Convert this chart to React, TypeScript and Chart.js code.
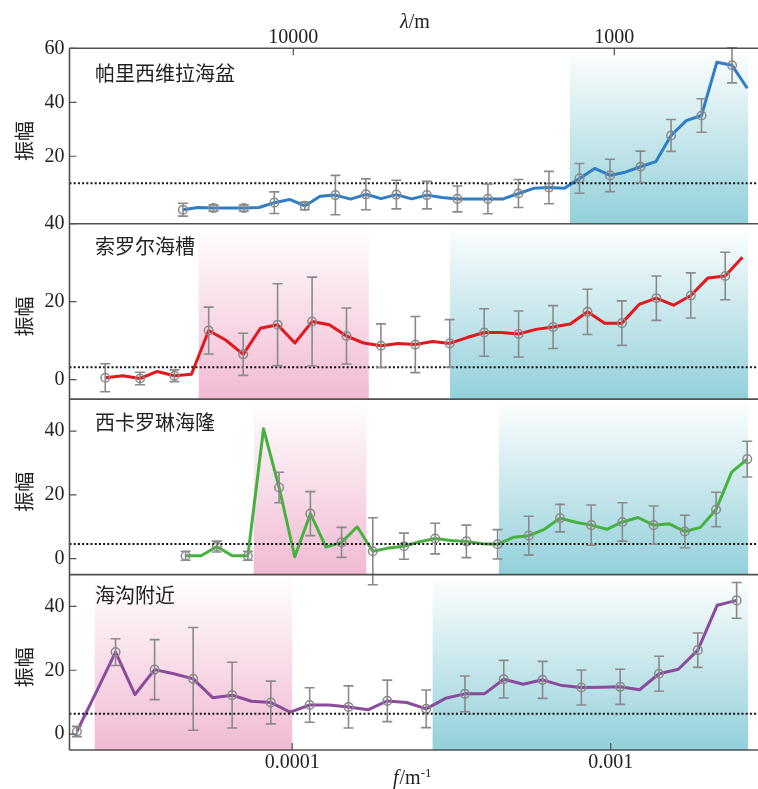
import React, { useEffect, useRef } from 'react';
import { Chart, registerables } from 'chart.js';

Chart.register(...registerables);

// ---------------- data ----------------
const panelNames = ['帕里西维拉海盆', '索罗尔海槽', '西卡罗琳海隆', '海沟附近'];
const yAxisTitle = '振幅';

const bottomTickValues = [1e-4, 1e-3];
const bottomTickLabels = ['0.0001', '0.001'];
const topTickValues = [1e-4, 1e-3];
const topTickLabels = ['10000', '1000'];

// Panel 1 – 帕里西维拉海盆
const freqP1 = [4.54e-5, 5.06e-5, 5.66e-5, 6.31e-5, 7.05e-5, 7.87e-5, 8.79e-5, 9.82e-5, 1.096e-4, 1.224e-4,
  1.367e-4, 1.526e-4, 1.704e-4, 1.902e-4, 2.124e-4, 2.372e-4, 2.649e-4, 2.957e-4, 3.302e-4, 3.687e-4,
  4.117e-4, 4.597e-4, 5.133e-4, 5.732e-4, 6.4e-4, 7.146e-4, 7.98e-4, 8.91e-4, 9.949e-4, 1.111e-3,
  1.24e-3, 1.385e-3, 1.547e-3, 1.727e-3, 1.928e-3, 2.153e-3, 2.404e-3, 2.684e-3];
const ampP1 = [0.2, 1.0, 0.8, 0.8, 0.8, 1.0, 2.8, 4.0, 1.6, 5.2, 5.6, 4.1, 5.9, 4.3, 5.8, 4.2, 5.6, 4.7, 4.2, 4.2,
  4.2, 4.2, 6.2, 8.1, 8.4, 8.1, 11.8, 15.5, 12.9, 14.1, 16.1, 18.0, 27.7, 33.2, 35.1, 54.8, 53.7, 45.2];
const errP1 = [2.4, 1.2, 1.2, 4.0, 1.4, 7.3, 5.7, 5.3, 5.1, 4.8, 5.5, 5.2, 6.0, 5.5, 6.0, 5.8, 5.9, 6.2, 6.5];

// Panel 2 – 索罗尔海槽
const freqP2 = [2.59e-5, 2.94e-5, 3.33e-5, 3.77e-5, 4.27e-5, 4.83e-5, 5.47e-5, 6.2e-5, 7.02e-5, 7.95e-5,
  9.0e-5, 1.02e-4, 1.155e-4, 1.308e-4, 1.481e-4, 1.677e-4, 1.899e-4, 2.151e-4, 2.436e-4, 2.759e-4,
  3.124e-4, 3.538e-4, 4.007e-4, 4.538e-4, 5.139e-4, 5.82e-4, 6.592e-4, 7.465e-4, 8.454e-4, 9.574e-4,
  1.084e-3, 1.228e-3, 1.391e-3, 1.575e-3, 1.784e-3, 2.02e-3, 2.288e-3, 2.591e-3];
const ampP2 = [0.5, 1.0, 0.3, 2.1, 1.0, 1.4, 12.6, 10.1, 6.5, 13.2, 14.1, 9.4, 14.9, 14.1, 11.2, 9.4, 8.7, 9.3, 9.0, 9.8,
  9.3, 10.8, 12.1, 12.1, 11.7, 12.9, 13.5, 14.3, 17.4, 14.5, 14.5, 19.3, 20.9, 19.1, 21.6, 26.1, 26.6, 31.4];
const errP2 = [3.6, 1.6, 1.5, 6.0, 5.4, 10.5, 11.4, 7.2, 5.6, 7.2, 6.1, 6.1, 5.9, 5.5, 5.8, 5.7, 5.7, 5.8, 6.1];

// Panel 3 – 西卡罗琳海隆
const freqP3 = [4.63e-5, 5.18e-5, 5.8e-5, 6.49e-5, 7.26e-5, 8.13e-5, 9.1e-5, 1.019e-4, 1.141e-4, 1.277e-4,
  1.429e-4, 1.6e-4, 1.791e-4, 2.005e-4, 2.244e-4, 2.512e-4, 2.812e-4, 3.148e-4, 3.523e-4, 3.944e-4,
  4.415e-4, 4.942e-4, 5.532e-4, 6.193e-4, 6.932e-4, 7.76e-4, 8.686e-4, 9.723e-4, 1.088e-3, 1.218e-3,
  1.364e-3, 1.527e-3, 1.709e-3, 1.913e-3, 2.142e-3, 2.397e-3, 2.683e-3];
const ampP3 = [0.9, 0.9, 3.8, 0.9, 0.9, 40.7, 22.3, 0.6, 14.1, 3.6, 5.1, 10.0, 2.3, 3.3, 3.9, 5.3, 6.3, 5.7, 5.4, 4.7,
  4.5, 6.7, 7.2, 9.2, 12.7, 11.4, 10.5, 9.2, 11.5, 12.9, 10.5, 10.9, 8.5, 9.8, 15.4, 27.1, 31.2];
const errP3 = [1.4, 1.7, 1.4, 4.8, 6.9, 4.7, 10.5, 4.1, 4.8, 5.1, 4.6, 6.1, 4.3, 6.3, 6.0, 6.0, 5.1, 5.4, 5.6];

// Panel 4 – 海沟附近
const freqP4 = [2.11e-5, 2.43e-5, 2.79e-5, 3.21e-5, 3.7e-5, 4.25e-5, 4.89e-5, 5.63e-5, 6.48e-5, 7.45e-5,
  8.57e-5, 9.86e-5, 1.135e-4, 1.306e-4, 1.503e-4, 1.729e-4, 1.989e-4, 2.289e-4, 2.634e-4, 3.03e-4,
  3.486e-4, 4.012e-4, 4.616e-4, 5.311e-4, 6.111e-4, 7.031e-4, 8.09e-4, 9.308e-4, 1.071e-3, 1.232e-3,
  1.418e-3, 1.631e-3, 1.877e-3, 2.16e-3, 2.485e-3];
const ampP4 = [0.8, 13.3, 25.7, 12.4, 20.2, 18.9, 17.3, 11.4, 12.2, 10.3, 9.9, 6.9, 9.1, 9.1, 8.5, 7.6, 10.4, 9.9, 7.9, 11.2,
  12.6, 12.6, 17.2, 15.6, 17.0, 15.2, 14.6, 14.7, 14.8, 13.9, 18.9, 20.3, 26.3, 40.4, 41.9];
const errP4 = [1.6, 4.2, 9.4, 16.1, 10.3, 6.7, 5.4, 6.6, 6.5, 5.9, 5.6, 5.9, 5.8, 5.5, 5.5, 5.5, 5.4, 5.6];

const thresholds = [10, 3.2, 4.6, 6.4];
const yRanges = [[-5, 60], [-5, 40], [-5, 50], [-5, 50]];
const yTickValues = [[20, 40, 60], [0, 20, 40], [0, 20, 40], [0, 20, 40]];

// shaded frequency bands: [from, to, kind]
const shadesP1: [number, number, string][] = [[7.44e-4, 2.7e-3, 'cyan']];
const shadesP2: [number, number, string][] = [[5.09e-5, 1.74e-4, 'pink'], [3.13e-4, 2.7e-3, 'cyan']];
const shadesP3: [number, number, string][] = [[7.58e-5, 1.71e-4, 'pink'], [4.46e-4, 2.7e-3, 'cyan']];
const shadesP4: [number, number, string][] = [[2.4e-5, 1.0e-4, 'pink'], [2.76e-4, 2.7e-3, 'cyan']];

// ---------------- styles ----------------
const W = 758;
const H = 789;
const SERIF = '"Liberation Serif", "Times New Roman", serif';
const CJK = '"Noto Sans CJK SC", "Noto Sans", sans-serif';
const lineColors = ['#2f7dc6', '#e3171c', '#46b23e', '#8a4b9c'];
const shadeColors: Record<string, string> = { cyan: '#93d0da', pink: '#f1bad3' };
const titleOffsets = [25, 23, 23, 21];

const panels = [
  { freq: freqP1, amp: ampP1, err: errP1, shades: shadesP1 },
  { freq: freqP2, amp: ampP2, err: errP2, shades: shadesP2 },
  { freq: freqP3, amp: ampP3, err: errP3, shades: shadesP3 },
  { freq: freqP4, amp: ampP4, err: errP4, shades: shadesP4 },
];

const decor = {
  id: 'decor',
  beforeDatasetsDraw(chart: any) {
    const ctx = chart.ctx;
    const xs = chart.scales.x;
    ctx.save();
    panels.forEach((p, i) => {
      const ys = chart.scales['y' + i];
      p.shades.forEach(([a, b, kind]) => {
        const x0 = xs.getPixelForValue(a);
        const x1 = xs.getPixelForValue(b);
        const g = ctx.createLinearGradient(0, ys.top, 0, ys.bottom);
        g.addColorStop(0, 'rgba(255,255,255,1)');
        g.addColorStop(1, shadeColors[kind]);
        ctx.fillStyle = g;
        ctx.fillRect(x0, ys.top, x1 - x0, ys.bottom - ys.top);
      });
    });
    ctx.restore();
  },
  afterDatasetsDraw(chart: any) {
    const ctx = chart.ctx;
    const xs = chart.scales.x;
    const { left, right } = chart.chartArea;
    ctx.save();
    // dotted reference lines
    panels.forEach((p, i) => {
      const ys = chart.scales['y' + i];
      const y = ys.getPixelForValue(thresholds[i]);
      ctx.strokeStyle = '#111';
      ctx.lineWidth = 2;
      ctx.setLineDash([2, 2.2]);
      ctx.beginPath();
      ctx.moveTo(left, y);
      ctx.lineTo(right, y);
      ctx.stroke();
    });
    ctx.setLineDash([]);
    // error bars
    ctx.strokeStyle = '#8a8a8a';
    ctx.lineWidth = 1.6;
    panels.forEach((p, i) => {
      const ys = chart.scales['y' + i];
      p.freq.forEach((f, k) => {
        if (k % 2 !== 0) return;
        const e = p.err[k / 2];
        const x = xs.getPixelForValue(f);
        const yLo = ys.getPixelForValue(p.amp[k] - e);
        const yHi = ys.getPixelForValue(p.amp[k] + e);
        ctx.beginPath();
        ctx.moveTo(x, yLo);
        ctx.lineTo(x, yHi);
        ctx.moveTo(x - 5, yLo);
        ctx.lineTo(x + 5, yLo);
        ctx.moveTo(x - 5, yHi);
        ctx.lineTo(x + 5, yHi);
        ctx.stroke();
      });
    });
    ctx.restore();
  },
  afterDraw(chart: any) {
    const ctx = chart.ctx;
    const xs = chart.scales.x;
    const xt = chart.scales.x2;
    const { left, right, top, bottom } = chart.chartArea;
    ctx.save();
    // frame
    ctx.strokeStyle = '#505050';
    ctx.lineWidth = 1.6;
    ctx.beginPath();
    ctx.moveTo(left, top);
    ctx.lineTo(right, top);
    panels.forEach((p, i) => {
      const ys = chart.scales['y' + i];
      ctx.moveTo(left, ys.bottom);
      ctx.lineTo(right, ys.bottom);
    });
    ctx.moveTo(left, top);
    ctx.lineTo(left, bottom);
    ctx.stroke();
    // inward ticks
    ctx.lineWidth = 1.2;
    ctx.beginPath();
    panels.forEach((p, i) => {
      const ys = chart.scales['y' + i];
      yTickValues[i].forEach((v) => {
        const y = ys.getPixelForValue(v);
        ctx.moveTo(left, y);
        ctx.lineTo(left + 7, y);
      });
    });
    bottomTickValues.forEach((v) => {
      const x = xs.getPixelForValue(v);
      ctx.moveTo(x, bottom);
      ctx.lineTo(x, bottom - 7);
    });
    topTickValues.forEach((v) => {
      const x = xt.getPixelForValue(v);
      ctx.moveTo(x, top);
      ctx.lineTo(x, top + 7);
    });
    ctx.stroke();

    // texts
    ctx.fillStyle = '#222';
    panels.forEach((p, i) => {
      const ys = chart.scales['y' + i];
      ctx.font = `20px ${CJK}`;
      ctx.textAlign = 'left';
      ctx.textBaseline = 'middle';
      ctx.fillText(panelNames[i], 95, ys.top + titleOffsets[i]);
      ctx.save();
      ctx.translate(24, (ys.top + ys.bottom) / 2 + 5);
      ctx.rotate(-Math.PI / 2);
      ctx.textAlign = 'center';
      ctx.fillText(yAxisTitle, 0, 0);
      ctx.restore();
    });

    // top axis title  λ/m
    ctx.textAlign = 'left';
    ctx.textBaseline = 'alphabetic';
    let x = 400;
    ctx.font = `italic 20px ${SERIF}`;
    ctx.fillText('λ', x, 28);
    x += ctx.measureText('λ').width;
    ctx.font = `20px ${SERIF}`;
    ctx.fillText('/m', x, 28);

    // bottom axis title  f/m-1
    x = 393;
    ctx.font = `italic 20px ${SERIF}`;
    ctx.fillText('f', x, 784);
    x += ctx.measureText('f').width + 1;
    ctx.font = `20px ${SERIF}`;
    ctx.fillText('/m', x, 784);
    x += ctx.measureText('/m').width;
    ctx.font = `13px ${SERIF}`;
    ctx.fillText('-1', x, 777);
    ctx.restore();
  },
};

export default function App() {
  const ref = useRef<HTMLCanvasElement | null>(null);

  useEffect(() => {
    if (!ref.current) return;
    const datasets: any[] = [];
    panels.forEach((p, i) => {
      datasets.push({
        type: 'line',
        data: p.freq.map((f, k) => ({ x: f, y: p.amp[k] })),
        borderColor: lineColors[i],
        borderWidth: 3,
        pointRadius: 0,
        tension: 0,
        borderJoinStyle: 'round',
        xAxisID: 'x',
        yAxisID: 'y' + i,
        order: 2,
      });
      datasets.push({
        type: 'line',
        showLine: false,
        data: p.freq
          .map((f, k) => ({ x: f, y: p.amp[k] }))
          .filter((_, k) => k % 2 === 0),
        pointRadius: 4.3,
        pointBorderWidth: 1.5,
        pointBorderColor: '#8a8a8a',
        pointBackgroundColor: 'rgba(0,0,0,0)',
        xAxisID: 'x',
        yAxisID: 'y' + i,
        order: 1,
      });
    });

    const tickFont = { family: SERIF, size: 20 };
    const zeroPad = (s: any) => {
      s.paddingLeft = 0;
      s.paddingRight = 0;
      s.paddingTop = 0;
      s.paddingBottom = 0;
    };
    const scales: any = {
      x: {
        type: 'logarithmic',
        position: 'bottom',
        bounds: 'data',
        min: 2e-5,
        max: 2.9e-3,
        grid: { display: false, drawTicks: false },
        border: { display: false },
        afterBuildTicks: (s: any) => {
          s.ticks = bottomTickValues.map((v) => ({ value: v }));
        },
        afterFit: (s: any) => {
          s.height = 39;
          zeroPad(s);
        },
        ticks: {
          autoSkip: false,
          maxRotation: 0,
          padding: 1,
          color: '#222',
          font: tickFont,
          callback: (_v: any, idx: number) => bottomTickLabels[idx],
        },
      },
      x2: {
        type: 'logarithmic',
        position: 'top',
        bounds: 'data',
        min: 2.008e-5,
        max: 2.804e-3,
        grid: { display: false, drawTicks: false },
        border: { display: false },
        afterBuildTicks: (s: any) => {
          s.ticks = topTickValues.map((v) => ({ value: v }));
        },
        afterFit: (s: any) => {
          s.height = 48.3;
          zeroPad(s);
        },
        ticks: {
          autoSkip: false,
          maxRotation: 0,
          padding: -1.5,
          color: '#222',
          font: tickFont,
          callback: (_v: any, idx: number) => topTickLabels[idx],
        },
      },
    };
    panels.forEach((p, i) => {
      scales['y' + i] = {
        type: 'linear',
        position: 'left',
        stack: 'panels',
        stackWeight: 1,
        weight: 4 - i,
        min: yRanges[i][0],
        max: yRanges[i][1],
        grid: { display: false, drawTicks: false },
        border: { display: false },
        afterBuildTicks: (s: any) => {
          s.ticks = yTickValues[i].map((v) => ({ value: v }));
        },
        afterFit: (s: any) => {
          s.width = 69.5;
          zeroPad(s);
        },
        ticks: {
          padding: 5,
          color: '#222',
          font: tickFont,
          callback: (v: any) => String(v),
        },
      };
    });

    const chart = new Chart(ref.current, {
      type: 'line',
      data: { datasets },
      options: {
        responsive: false,
        maintainAspectRatio: false,
        animation: false,
        events: [],
        layout: { padding: 0, autoPadding: false },
        plugins: { legend: { display: false }, tooltip: { enabled: false } },
        scales,
      } as any,
      plugins: [decor],
    });
    return () => chart.destroy();
  }, []);

  return (
    <div style={{ position: 'absolute', left: 0, top: 0, width: W, height: H, background: '#fff' }}>
      <canvas ref={ref} width={W} height={H} style={{ display: 'block' }} />
    </div>
  );
}
